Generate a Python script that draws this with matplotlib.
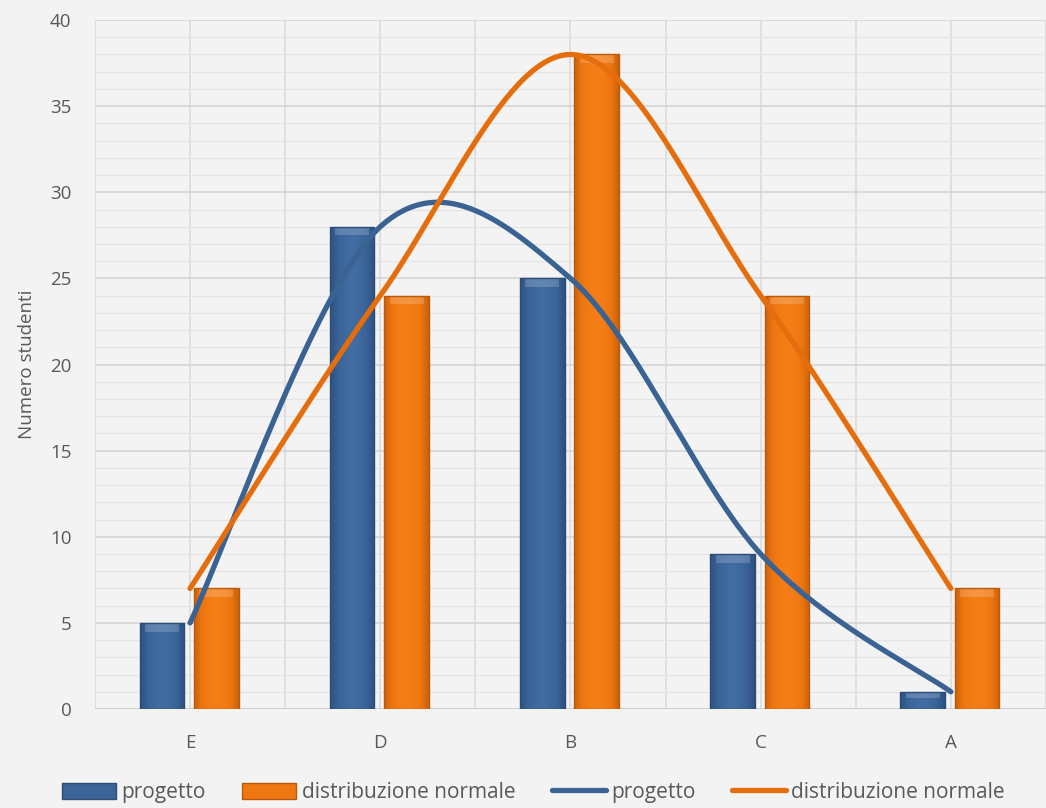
import numpy as np
import matplotlib.pyplot as plt
from matplotlib.patches import Patch
from matplotlib.lines import Line2D
from matplotlib.colors import LinearSegmentedColormap

# dati
categorie = ["E", "D", "B", "C", "A"]
progetto = [5, 28, 25, 9, 1]
distribuzione = [7, 24, 38, 24, 7]

blu = "#3b6497"
arancio = "#ef7711"
blu_linea = "#3a6394"
arancio_linea = "#e56d0b"
grigio = "#595959"
sfondo = "#f3f3f3"

plt.rcParams["font.family"] = ["Open Sans", "DejaVu Sans"]


def spline(xs, ys, n=60):
    # curva smussata tipo Excel (Catmull-Rom parametrica)
    pts = np.column_stack([xs, ys]).astype(float)
    pts = np.vstack([pts[0], pts, pts[-1]])
    out = []
    for i in range(1, len(pts) - 2):
        p0, p1, p2, p3 = pts[i - 1], pts[i], pts[i + 1], pts[i + 2]
        t = np.linspace(0, 1, n)[:, None]
        c = 0.5 * ((2 * p1) + (-p0 + p2) * t + (2 * p0 - 5 * p1 + 4 * p2 - p3) * t ** 2
                   + (-p0 + 3 * p1 - 3 * p2 + p3) * t ** 3)
        out.append(c)
    out = np.vstack(out)
    return out[:, 0], out[:, 1]


def sfuma(ax, bars, cmap):
    # gradiente orizzontale dentro ogni barra (effetto smussato)
    g = np.abs(np.linspace(-1, 1, 64)) ** 1.5
    g = np.tile(g, (2, 1))
    for r in bars:
        x0, w, h = r.get_x(), r.get_width(), r.get_height()
        im = ax.imshow(g, cmap=cmap, aspect="auto", extent=(x0, x0 + w, 0, h),
                       zorder=3.5, interpolation="bicubic")
        im.set_clip_path(r)
        # bordo superiore piu chiaro
        ht = min(0.45, h * 0.3)
        ax.fill_between([x0 + w * 0.12, x0 + w * 0.88], h - ht - 0.05, h - 0.05,
                        color="white", alpha=0.18, lw=0, zorder=3.6)


fig = plt.figure(figsize=(10.46, 8.08), dpi=100, facecolor=sfondo)
ax = fig.add_axes([0.0908, 0.1225, 0.9092, 0.8527])
ax.set_facecolor(sfondo)

x = np.arange(len(categorie))
larg = 0.235
b1 = ax.bar(x - 0.148, progetto, larg, color=blu, edgecolor="#2c4d75", linewidth=1, zorder=3)
b2 = ax.bar(x + 0.138, distribuzione, larg, color=arancio, edgecolor="#b85a0c", linewidth=1, zorder=3)

sfuma(ax, b1, LinearSegmentedColormap.from_list("b", ["#416da3", "#3a6396", "#2d5080"]))
sfuma(ax, b2, LinearSegmentedColormap.from_list("o", ["#f57f16", "#ee7610", "#cc620a"]))
for r in list(b1) + list(b2):
    r.set_facecolor("none")
    r.set_zorder(3.7)

sx, sy = spline(x, progetto)
ax.plot(sx, sy, color=blu_linea, lw=3.8, solid_capstyle="round", zorder=5)
sx, sy = spline(x, distribuzione)
ax.plot(sx, sy, color=arancio_linea, lw=3.8, solid_capstyle="round", zorder=6)

ax.set_ylim(0, 40)
ax.set_xlim(-0.5, 4.453)
ax.set_yticks(range(0, 41, 5))
ax.set_yticks(range(0, 41), minor=True)
ax.set_xticks(x)
ax.set_xticklabels(categorie)
ax.set_xticks(np.arange(-0.5, 5, 1.0), minor=True)

ax.grid(which="major", axis="y", color="#d4d4d4", lw=1.2, zorder=0)
ax.grid(which="minor", axis="y", color="#e4e4e4", lw=0.9, zorder=0)
ax.grid(which="both", axis="x", color="#d9d9d9", lw=1.1, zorder=0)

for s in ax.spines.values():
    s.set_visible(False)
ax.axhline(0, color="#d0d0d0", lw=1.3, zorder=2)
ax.tick_params(which="both", length=0, labelsize=13.5, colors=grigio)
ax.tick_params(axis="x", pad=18)
ax.tick_params(axis="y", pad=17)
ax.set_ylabel("Numero studenti", fontsize=13.5, color=grigio, labelpad=10)

handles = [
    Patch(facecolor=blu, edgecolor="#2c4d75"),
    Patch(facecolor=arancio, edgecolor="#b85a0c"),
    Line2D([], [], color=blu_linea, lw=3.8, solid_capstyle="round"),
    Line2D([], [], color=arancio_linea, lw=3.8, solid_capstyle="round"),
]
labels = ["progetto", "distribuzione normale", "progetto", "distribuzione normale"]
fig.legend(handles, labels, loc="lower center", bbox_to_anchor=(0.51, -0.017), ncol=4,
           frameon=False, fontsize=15, labelcolor=grigio, handlelength=2.6,
           handletextpad=0.25, columnspacing=1.75, handleheight=0.8)

fig.savefig("out.png", dpi=100, facecolor=sfondo)
